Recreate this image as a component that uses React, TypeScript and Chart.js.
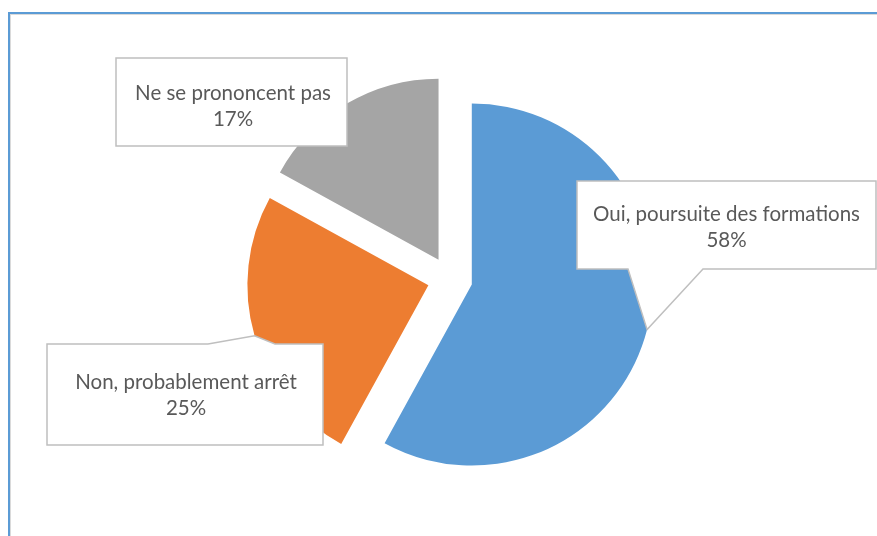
import React, { useEffect, useRef } from 'react';
import { Chart, registerables } from 'chart.js';

Chart.register(...registerables);

// ---- data ----
const categories = ['Oui, poursuite des formations', 'Non, probablement arrêt', 'Ne se prononcent pas'];
const values = [58, 25, 17];
const colors = ['#5B9BD5', '#ED7D31', '#A5A5A5'];

// ---- styling / layout ----
const EXPLODE = 22.5;
const RADIUS = 181;
const FONT = '20.5px Lato';
const TEXT_COLOR = '#595959';
const LINE_GAP = 26;

// callout boxes: [left, top, right, bottom], pointer side, pointer base x positions, text anchor
const calloutBoxes = [
  { box: [577, 181, 876, 269], side: 'bottom', base: [628, 703], text: [726.5, 221] },
  { box: [47, 344, 323, 445], side: 'top', base: [208, 275], text: [186, 389] },
  { box: [116, 58, 347, 146], side: 'none', base: [0, 0], text: [233, 100] },
];

const explodePlugin = {
  id: 'explode',
  afterDatasetsUpdate(chart: any) {
    const meta = chart.getDatasetMeta(0);
    const a = chart.chartArea;
    const cx = (a.left + a.right) / 2;
    const cy = (a.top + a.bottom) / 2;
    meta.data.forEach((arc: any) => {
      const mid = (arc.startAngle + arc.endAngle) / 2;
      arc.x = cx + Math.cos(mid) * EXPLODE;
      arc.y = cy + Math.sin(mid) * EXPLODE;
    });
  },
};

const calloutPlugin = {
  id: 'callouts',
  afterDatasetsDraw(chart: any) {
    const ctx = chart.ctx;
    const meta = chart.getDatasetMeta(0);
    const total = values.reduce((s, v) => s + v, 0);
    meta.data.forEach((arc: any, i: number) => {
      const c = calloutBoxes[i];
      const [x0, y0, x1, y1] = c.box;
      const mid = (arc.startAngle + arc.endAngle) / 2;
      const tx = arc.x + Math.cos(mid) * arc.outerRadius;
      const ty = arc.y + Math.sin(mid) * arc.outerRadius;
      ctx.save();
      ctx.beginPath();
      if (c.side === 'top') {
        ctx.moveTo(x0, y0);
        ctx.lineTo(c.base[0], y0);
        ctx.lineTo(tx, ty);
        ctx.lineTo(c.base[1], y0);
        ctx.lineTo(x1, y0);
        ctx.lineTo(x1, y1);
        ctx.lineTo(x0, y1);
      } else if (c.side === 'bottom') {
        ctx.moveTo(x0, y0);
        ctx.lineTo(x1, y0);
        ctx.lineTo(x1, y1);
        ctx.lineTo(c.base[1], y1);
        ctx.lineTo(tx, ty);
        ctx.lineTo(c.base[0], y1);
        ctx.lineTo(x0, y1);
      } else {
        ctx.moveTo(x0, y0);
        ctx.lineTo(x1, y0);
        ctx.lineTo(x1, y1);
        ctx.lineTo(x0, y1);
      }
      ctx.closePath();
      ctx.fillStyle = '#FFFFFF';
      ctx.fill();
      ctx.lineWidth = 1.5;
      ctx.strokeStyle = '#BFBFBF';
      ctx.lineJoin = 'miter';
      ctx.stroke();

      ctx.fillStyle = TEXT_COLOR;
      ctx.font = FONT;
      ctx.textAlign = 'center';
      ctx.textBaseline = 'alphabetic';
      const pct = Math.round((values[i] / total) * 100);
      ctx.fillText(categories[i], c.text[0], c.text[1]);
      ctx.fillText(pct + '%', c.text[0], c.text[1] + LINE_GAP);
      ctx.restore();
    });
  },
};

export default function App() {
  const ref = useRef<HTMLCanvasElement | null>(null);
  useEffect(() => {
    if (!ref.current) return;
    const chart = new Chart(ref.current, {
      type: 'pie',
      data: {
        labels: categories,
        datasets: [
          {
            data: values,
            backgroundColor: colors,
            borderWidth: 0,
          },
        ],
      },
      options: {
        animation: false,
        responsive: false,
        radius: RADIUS,
        layout: { padding: { left: 23, right: 0, top: 22, bottom: 0 } },
        plugins: {
          legend: { display: false },
          tooltip: { enabled: false },
        },
        events: [],
      } as any,
      plugins: [explodePlugin, calloutPlugin],
    });
    return () => chart.destroy();
  }, []);

  return (
    <div style={{ position: 'absolute', left: 0, top: 0, width: 877, height: 536, overflow: 'hidden', background: '#fff' }}>
      <div
        style={{
          position: 'absolute',
          left: 8,
          top: 12,
          width: 900,
          height: 560,
          borderTop: '2px solid #5B9BD5',
          borderLeft: '2px solid #5B9BD5',
          boxShadow: 'inset 1px 1px 0 #DADADA',
        }}
      />
      <canvas ref={ref} width={877} height={536} style={{ position: 'absolute', left: 0, top: 0 }} />
    </div>
  );
}
